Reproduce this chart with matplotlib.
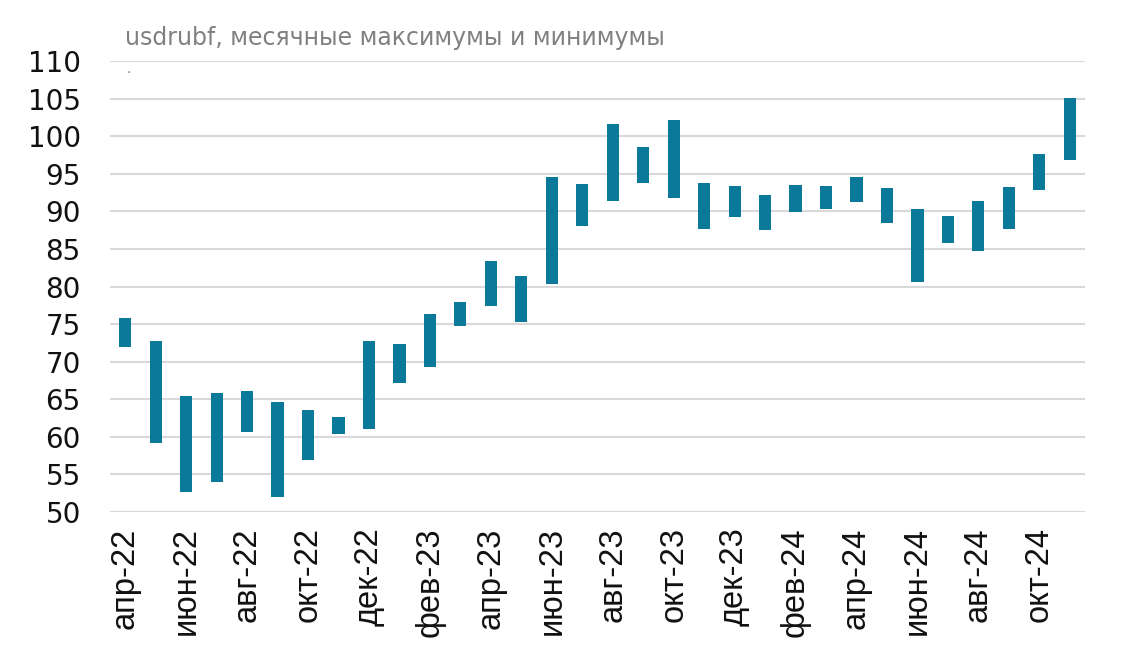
import matplotlib
matplotlib.use("Agg")
import matplotlib.pyplot as plt
import numpy as np

months = ["апр-22", "май-22", "июн-22", "июл-22", "авг-22", "сен-22", "окт-22", "ноя-22",
          "дек-22", "янв-23", "фев-23", "мар-23", "апр-23", "май-23", "июн-23", "июл-23",
          "авг-23", "сен-23", "окт-23", "ноя-23", "дек-23", "янв-24", "фев-24", "мар-24",
          "апр-24", "май-24", "июн-24", "июл-24", "авг-24", "сен-24", "окт-24", "ноя-24"]
highs = [75.8, 72.7, 65.4, 65.8, 66.1, 64.6, 63.6, 62.6,
         72.8, 72.3, 76.3, 77.9, 83.4, 81.4, 94.6, 93.6,
         101.6, 98.6, 102.1, 93.8, 93.4, 92.2, 93.5, 93.4,
         94.6, 93.1, 90.3, 89.4, 91.4, 93.2, 97.6, 105.1]
lows = [72.0, 59.2, 52.7, 54.0, 60.6, 52.0, 56.9, 60.4,
        61.0, 67.2, 69.3, 74.7, 77.4, 75.3, 80.3, 88.0,
        91.4, 93.8, 91.8, 87.6, 89.2, 87.5, 89.9, 90.3,
        91.2, 88.4, 80.6, 85.8, 84.7, 87.6, 92.8, 96.8]
yticks = list(range(50, 111, 5))
title = "usdrubf, месячные максимумы и минимумы"

W, H = 1134, 671
fig = plt.figure(figsize=(W / 100, H / 100), dpi=100)
ax = fig.add_axes([110 / W, 1 - 512 / H, (1085 - 110) / W, (512 - 61) / H])

x = np.arange(len(months))
heights = np.array(highs) - np.array(lows)
ax.bar(x, heights, bottom=lows, width=0.4, color="#0b7a9a", zorder=3)

ax.set_xlim(-0.5, len(months) - 0.5)
ax.set_ylim(50, 110)
ax.set_yticks(yticks)
ax.set_yticklabels([str(v) for v in yticks], fontsize=20, family="DejaVu Sans", color="#111111")
ax.set_xticks(x[::2])
ax.set_xticklabels(months[::2], rotation=90, fontsize=23.5, family="Liberation Sans", color="#111111")
ax.tick_params(axis="both", length=0)
ax.tick_params(axis="y", pad=21)
ax.tick_params(axis="x", pad=11)
for s in ax.spines.values():
    s.set_visible(False)
ax.yaxis.grid(True, color="#d9d9d9", linewidth=1.5, zorder=0)
ax.set_axisbelow(True)

fig.text(125 / W, 1 - 45 / H, title, fontsize=17, color="#808080", family="DejaVu Sans",
         ha="left", va="baseline")
fig.text(126 / W, 1 - 73 / H, ".", fontsize=10, color="#808080", ha="left", va="baseline")

fig.savefig("out.png", dpi=100)
